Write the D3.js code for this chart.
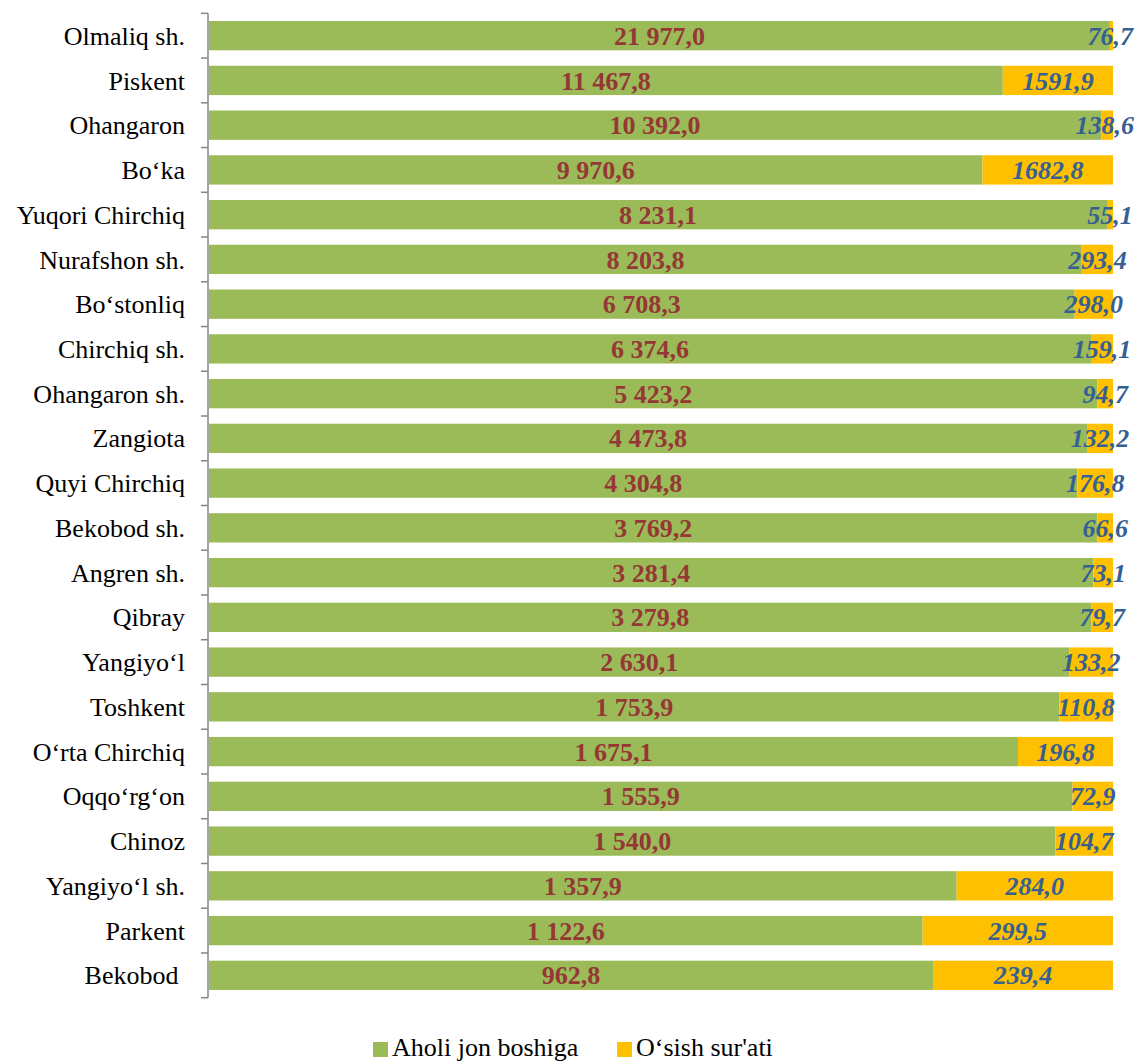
<!DOCTYPE html>
<html><head><meta charset="utf-8">
<script src="https://cdn.jsdelivr.net/npm/d3@7"></script>
<style>body{margin:0;background:#fff}svg{display:block}</style>
</head><body>
<script>
const categories = ["Olmaliq sh.","Piskent","Ohangaron","Bo‘ka","Yuqori Chirchiq","Nurafshon sh.","Bo‘stonliq","Chirchiq sh.","Ohangaron sh.","Zangiota","Quyi Chirchiq","Bekobod sh.","Angren sh.","Qibray","Yangiyo‘l","Toshkent","O‘rta Chirchiq","Oqqo‘rg‘on","Chinoz","Yangiyo‘l sh.","Parkent","Bekobod "];
const perCapita = [21977.0,11467.8,10392.0,9970.6,8231.1,8203.8,6708.3,6374.6,5423.2,4473.8,4304.8,3769.2,3281.4,3279.8,2630.1,1753.9,1675.1,1555.9,1540.0,1357.9,1122.6,962.8];
const growth = [76.7,1591.9,138.6,1682.8,55.1,293.4,298.0,159.1,94.7,132.2,176.8,66.6,73.1,79.7,133.2,110.8,196.8,72.9,104.7,284.0,299.5,239.4];
const seriesNames = ["Aholi jon boshiga","O‘sish sur'ati"];
const colors = ["#9BBB59","#FFC000"];

const W=1136,H=1061;
const FF='"Liberation Serif", serif';
const svg=d3.select("body").append("svg").attr("width",W).attr("height",H);

const y=d3.scaleBand().domain(categories).range([13.3,997.7]).paddingInner(0.345).paddingOuter(0.1725);
const x=d3.scaleLinear().domain([0,1]).range([209,1113]);

const fmt1=v=>{const s=v.toFixed(1).split(".");return s[0].replace(/\B(?=(\d{3})+(?!\d))/g," ")+","+s[1];};
const fmt2=v=>v.toFixed(1).replace(".",",");

const data=categories.map((c,i)=>{const t=perCapita[i]+growth[i];return {c,a:perCapita[i]/t,b:growth[i]/t,va:perCapita[i],vb:growth[i]};});

const g=svg.append("g");
g.selectAll("rect.a").data(data).join("rect").attr("class","a")
 .attr("x",x(0)).attr("y",d=>y(d.c)).attr("height",y.bandwidth())
 .attr("width",d=>x(d.a)-x(0)).attr("fill",colors[0]);
g.selectAll("rect.b").data(data).join("rect").attr("class","b")
 .attr("x",d=>x(d.a)).attr("y",d=>y(d.c)).attr("height",y.bandwidth())
 .attr("width",d=>x(1)-x(d.a)).attr("fill",colors[1]);

// axis
const ax=svg.append("g").attr("transform","translate(208,0)");
ax.append("line").attr("x1",0).attr("x2",0).attr("y1",13.3).attr("y2",997.7).attr("stroke","#868686").attr("stroke-width",1.5);
const bounds=categories.map(c=>y(c)-y.step()*y.paddingInner()/2).concat([997.7]);
bounds[0]=13.3;
ax.selectAll("line.t").data(bounds).join("line").attr("class","t")
 .attr("x1",-7).attr("x2",0).attr("y1",d=>d).attr("y2",d=>d).attr("stroke","#868686").attr("stroke-width",1.5);
svg.append("g").selectAll("text").data(categories).join("text")
 .attr("x",185).attr("y",d=>y(d)+y.bandwidth()/2).attr("dy","0.35em")
 .attr("text-anchor","end").style("white-space","pre").style("font-family",FF).style("font-size","26px").attr("fill","#000").text(d=>d);

// labels
svg.append("g").selectAll("text").data(data).join("text")
 .attr("x",d=>(x(0)+x(d.a))/2).attr("y",d=>y(d.c)+y.bandwidth()/2).attr("dy","0.35em")
 .attr("text-anchor","middle").style("font-family",FF).style("font-size","26px").style("font-weight","bold")
 .attr("fill","#953735").text(d=>fmt1(d.va));
svg.append("g").selectAll("text").data(data).join("text")
 .attr("x",d=>(x(d.a)+x(1))/2).attr("y",d=>y(d.c)+y.bandwidth()/2).attr("dy","0.35em")
 .attr("text-anchor","middle").style("font-family",FF).style("font-size","26px").style("font-weight","bold").style("font-style","italic")
 .attr("fill","#376092").text(d=>fmt2(d.vb))
 .each(function(){const bb=this.getBBox();if(bb.x+bb.width>1134){const cx=+d3.select(this).attr("x");d3.select(this).attr("x",cx-(bb.x+bb.width-1134));}});

// legend
const leg=svg.append("g");
const lx=[373,617];
seriesNames.forEach((n,i)=>{
 leg.append("rect").attr("x",lx[i]).attr("y",1042).attr("width",15).attr("height",15).attr("fill",colors[i]);
 leg.append("text").attr("x",lx[i]+19).attr("y",1056).style("font-family",FF).style("font-size","26px").attr("fill","#000").text(n);
});
</script>
</body></html>
